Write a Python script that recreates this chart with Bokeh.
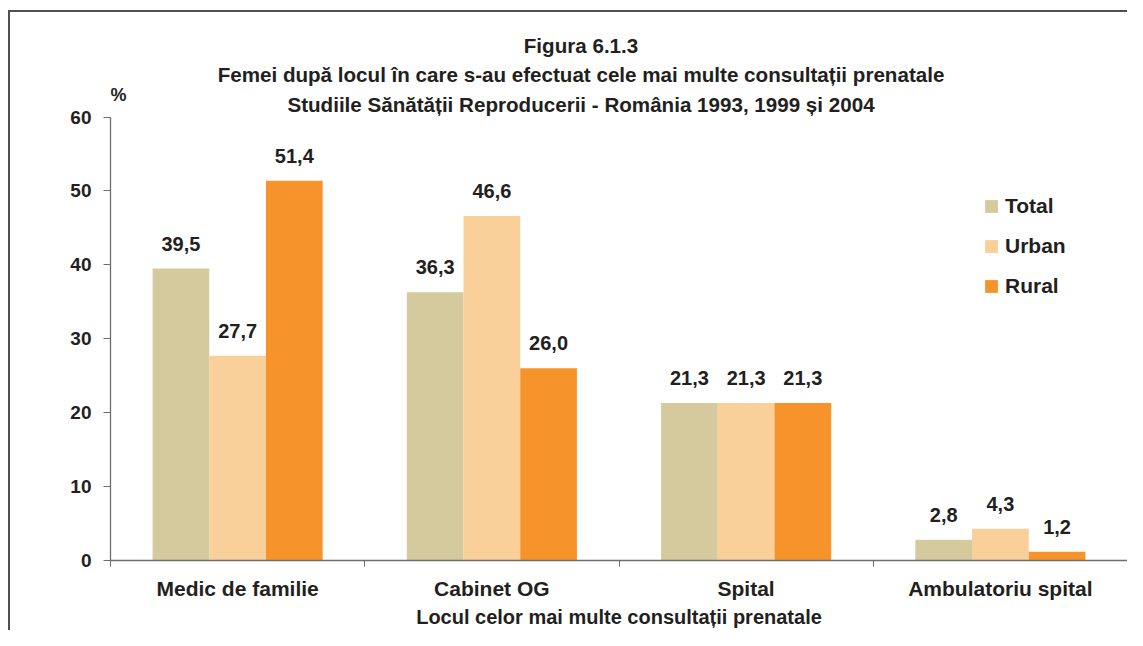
from bokeh.plotting import figure
from bokeh.models import (ColumnDataSource, FixedTicker, Label, Legend, LegendItem, Range1d)
from bokeh.transform import dodge
from bokeh.core.properties import value
from bokeh.embed import file_html
from bokeh.resources import INLINE

# ---- data ----
categories = ["Medic de familie", "Cabinet OG", "Spital", "Ambulatoriu spital"]
series = ["Total", "Urban", "Rural"]
total = [39.5, 36.3, 21.3, 2.8]
urban = [27.7, 46.6, 21.3, 4.3]
rural = [51.4, 26.0, 21.3, 1.2]
y_ticks = [0, 10, 20, 30, 40, 50, 60]
title_lines = [
    "Figura 6.1.3",
    "Femei după locul în care s-au efectuat cele mai multe consultații prenatale",
    "Studiile Sănătății Reproducerii - România 1993, 1999 și 2004",
]
x_title = "Locul celor mai multe consultații prenatale"
y_unit = "%"

# ---- styles / layout ----
colors = ["#d5ca9e", "#f9cf9a", "#f7932b"]
FONT = "Liberation Sans"
TXT = "#231f20"
AX = "#6e6e6e"
BORDER = "#4f4f4f"
BAR_W = 0.223
W, H = 1127, 630
LEFT, BOTTOM = 110, 68
AXIS_MAX = 60
TOP_GAP = 117          # px from canvas top to the 60 tick
FRAME_H = H - BOTTOM
Y_TOP = AXIS_MAX * FRAME_H / (FRAME_H - TOP_GAP)


def fmt(v):
    return f"{v:.1f}".replace(".", ",")


xc = [i + 0.5 for i in range(len(categories))]
data = dict(xc=xc, Total=total, Urban=urban, Rural=rural)
for s, vals in zip(series, [total, urban, rural]):
    data[s + "_lbl"] = [fmt(v) for v in vals]
src = ColumnDataSource(data)

p = figure(width=W, height=H,
           x_range=Range1d(0, len(categories)), y_range=Range1d(0, Y_TOP),
           output_backend="svg", toolbar_location=None,
           min_border_left=LEFT, min_border_right=0,
           min_border_top=0, min_border_bottom=BOTTOM)
p.styles = {
    "background": (
        f"linear-gradient({BORDER}, {BORDER}) 8px 10px / calc(100% - 8px) 2px no-repeat, "
        f"linear-gradient({BORDER}, {BORDER}) 8px 10px / 2px calc(100% - 10px) no-repeat, "
        "#ffffff"
    )
}
p.outline_line_color = None
p.xgrid.visible = False
p.ygrid.visible = False
p.background_fill_alpha = 0
p.border_fill_alpha = 0

offsets = [-BAR_W, 0.0, BAR_W]
items = []
for s, c, o in zip(series, colors, offsets):
    r = p.vbar(x=dodge("xc", o, range=p.x_range), top=s, width=BAR_W,
               source=src, fill_color=c, line_color=None)
    items.append(LegendItem(label=s, renderers=[r]))
    p.text(x=dodge("xc", o, range=p.x_range), y=s, text=s + "_lbl", source=src,
           text_align="center", text_baseline="alphabetic", y_offset=-25,
           text_font=value(FONT), text_font_style="bold",
           text_font_size="20px", text_color=TXT)

# x axis: labels at category centres, ticks at boundaries
xa = p.xaxis[0]
xa.ticker = FixedTicker(ticks=xc, minor_ticks=list(range(len(categories) + 1)))
xa.major_label_overrides = {x: c for x, c in zip(xc, categories)}
xa.major_tick_out = 0
xa.major_tick_in = 0
xa.minor_tick_out = 6
xa.minor_tick_in = 0
xa.minor_tick_line_color = AX
xa.axis_line_color = AX
xa.axis_line_width = 1.3
xa.major_label_standoff = 10
xa.major_label_text_font = FONT
xa.major_label_text_font_style = "bold"
xa.major_label_text_font_size = "21px"
xa.major_label_text_color = TXT
xa.axis_label = x_title
xa.axis_label_standoff = 3
xa.axis_label_text_font = FONT
xa.axis_label_text_font_style = "bold"
xa.axis_label_text_font_size = "20px"
xa.axis_label_text_color = TXT

ya = p.yaxis[0]
ya.ticker = FixedTicker(ticks=y_ticks)
ya.bounds = (0, AXIS_MAX)
ya.major_tick_out = 7
ya.major_tick_in = 0
ya.minor_tick_line_color = None
ya.major_tick_line_color = AX
ya.axis_line_color = AX
ya.axis_line_width = 1.3
ya.major_label_standoff = 12
ya.major_label_text_font = FONT
ya.major_label_text_font_style = "bold"
ya.major_label_text_font_size = "19px"
ya.major_label_text_color = TXT

# unit label and titles (inside the frame, above the axis top)
p.add_layout(Label(x=0, y=AXIS_MAX, x_offset=0, y_offset=22, text=y_unit,
                   text_align="left", text_baseline="alphabetic",
                   text_font=FONT, text_font_style="bold",
                   text_font_size="18px", text_color=TXT))
for line, off in zip(title_lines, [72, 43, 13]):
    p.add_layout(Label(x=len(categories) / 2, y=AXIS_MAX, x_offset=-38, y_offset=off,
                       text=line, text_align="center", text_baseline="alphabetic",
                       text_font=FONT, text_font_style="bold",
                       text_font_size="20.6px", text_color=TXT))

legend = Legend(items=items, location=(873, 262), orientation="vertical",
                glyph_width=16, glyph_height=16, label_standoff=6,
                spacing=16, padding=0, margin=0, label_height=16,
                border_line_color=None, background_fill_alpha=0,
                label_text_font=FONT, label_text_font_style="bold",
                label_text_font_size="21px", label_text_color=TXT)
p.add_layout(legend)

open("out.html", "w").write(file_html(p, INLINE))
